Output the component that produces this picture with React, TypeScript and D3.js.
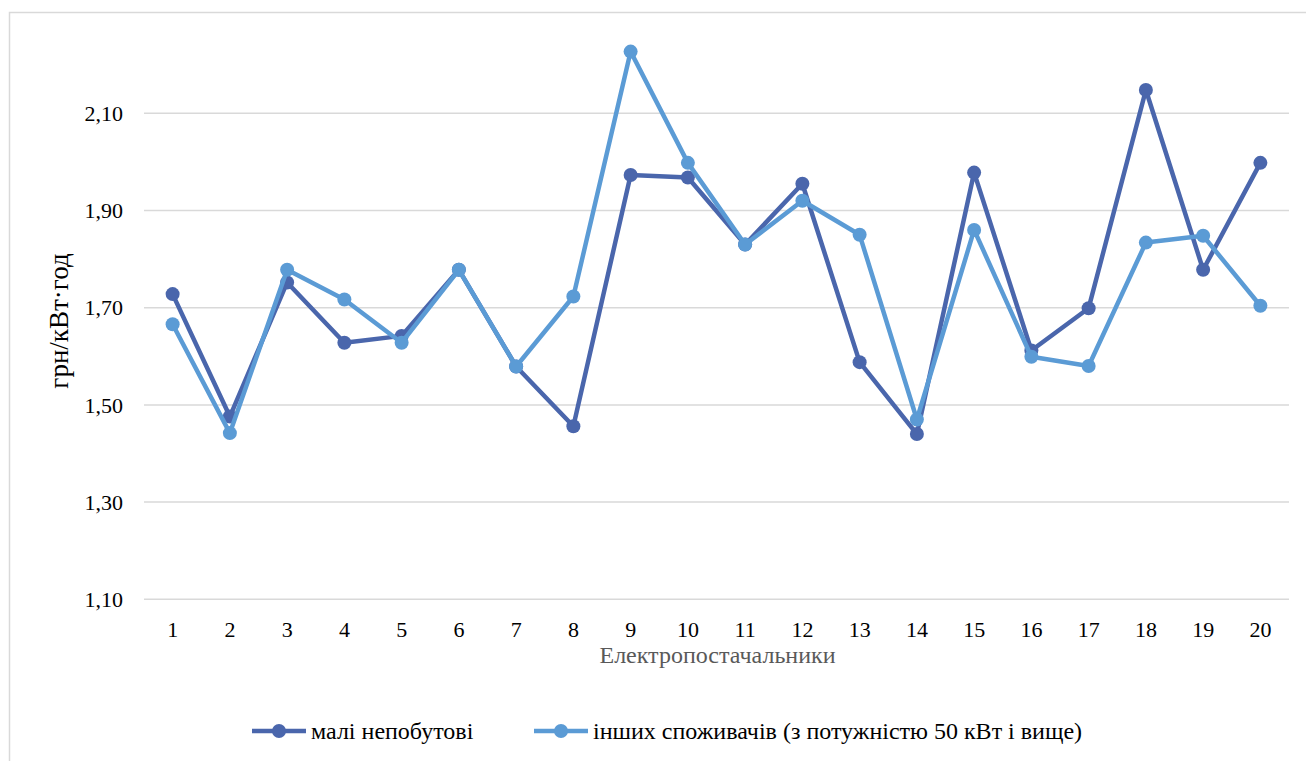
import React from "react";
import * as d3 from "d3";

const categories: string[] = ["1","2","3","4","5","6","7","8","9","10","11","12","13","14","15","16","17","18","19","20"];
const smallNonHousehold: number[] = [1.728,1.476,1.752,1.628,1.642,1.778,1.579,1.456,1.973,1.968,1.830,1.955,1.588,1.440,1.978,1.612,1.699,2.148,1.778,1.998];
const otherConsumers: number[] = [1.666,1.442,1.778,1.717,1.628,1.778,1.579,1.723,2.227,1.998,1.830,1.920,1.850,1.470,1.860,1.599,1.580,1.834,1.848,1.704];
const yTicks: number[] = [1.1, 1.3, 1.5, 1.7, 1.9, 2.1];
const seriesNames: string[] = ["малі непобутові", "інших споживачів (з потужністю 50 кВт і вище)"];
const seriesColors: string[] = ["#4A66AC", "#5B9BD5"];

const W = 1306;
const H = 761;
const FONT = "'Liberation Serif', 'DejaVu Serif', serif";

export default function App() {
  const x = d3.scaleBand<string>().domain(categories).range([144, 1289]).padding(0);
  const y = d3.scaleLinear().domain([1.1, 2.1]).range([599.3, 113.3]);
  const line = d3
    .line<number>()
    .x((_, i) => (x(categories[i]) as number) + x.bandwidth() / 2)
    .y((d) => y(d));
  const series = [smallNonHousehold, otherConsumers];
  const fmt = (v: number) => v.toFixed(2).replace(".", ",");

  const legendItems = [
    { x0: 252, tx: 311 },
    { x0: 534, tx: 593 },
  ];

  return (
    <svg
      width={W}
      height={H}
      style={{ position: "absolute", left: 0, top: 0, background: "#fff", fontFamily: FONT }}
    >
      <rect x={9.5} y={12.5} width={W + 20} height={H + 20} fill="#fff" stroke="#d9d9d9" strokeWidth={1.5} />
      {yTicks.map((t) => (
        <g key={t}>
          <line x1={144} x2={1289} y1={y(t)} y2={y(t)} stroke="#d9d9d9" strokeWidth={1.5} />
          <text x={123} y={y(t)} dy="0.35em" textAnchor="end" fontSize={22} fill="#000">
            {fmt(t)}
          </text>
        </g>
      ))}
      {categories.map((c) => (
        <text
          key={c}
          x={(x(c) as number) + x.bandwidth() / 2}
          y={636.5}
          textAnchor="middle"
          fontSize={22}
          fill="#000"
        >
          {c}
        </text>
      ))}
      <text x={717.5} y={663} textAnchor="middle" fontSize={24} fill="#595959">
        Електропостачальники
      </text>
      <text
        transform={`translate(68,321) rotate(-90)`}
        textAnchor="middle"
        fontSize={27}
        fill="#000"
      >
        грн/кВт·год
      </text>
      {series.map((s, si) => (
        <g key={si}>
          <path d={line(s) || ""} fill="none" stroke={seriesColors[si]} strokeWidth={4.5} strokeLinejoin="round" />
          {s.map((v, i) => (
            <circle
              key={i}
              cx={(x(categories[i]) as number) + x.bandwidth() / 2}
              cy={y(v)}
              r={7}
              fill={seriesColors[si]}
            />
          ))}
        </g>
      ))}
      {legendItems.map((li, si) => (
        <g key={si}>
          <line x1={li.x0} x2={li.x0 + 54} y1={731} y2={731} stroke={seriesColors[si]} strokeWidth={4.5} />
          <circle cx={li.x0 + 27} cy={731} r={7} fill={seriesColors[si]} />
          <text x={li.tx} y={731} dy="0.35em" fontSize={24} fill="#000">
            {seriesNames[si]}
          </text>
        </g>
      ))}
    </svg>
  );
}
